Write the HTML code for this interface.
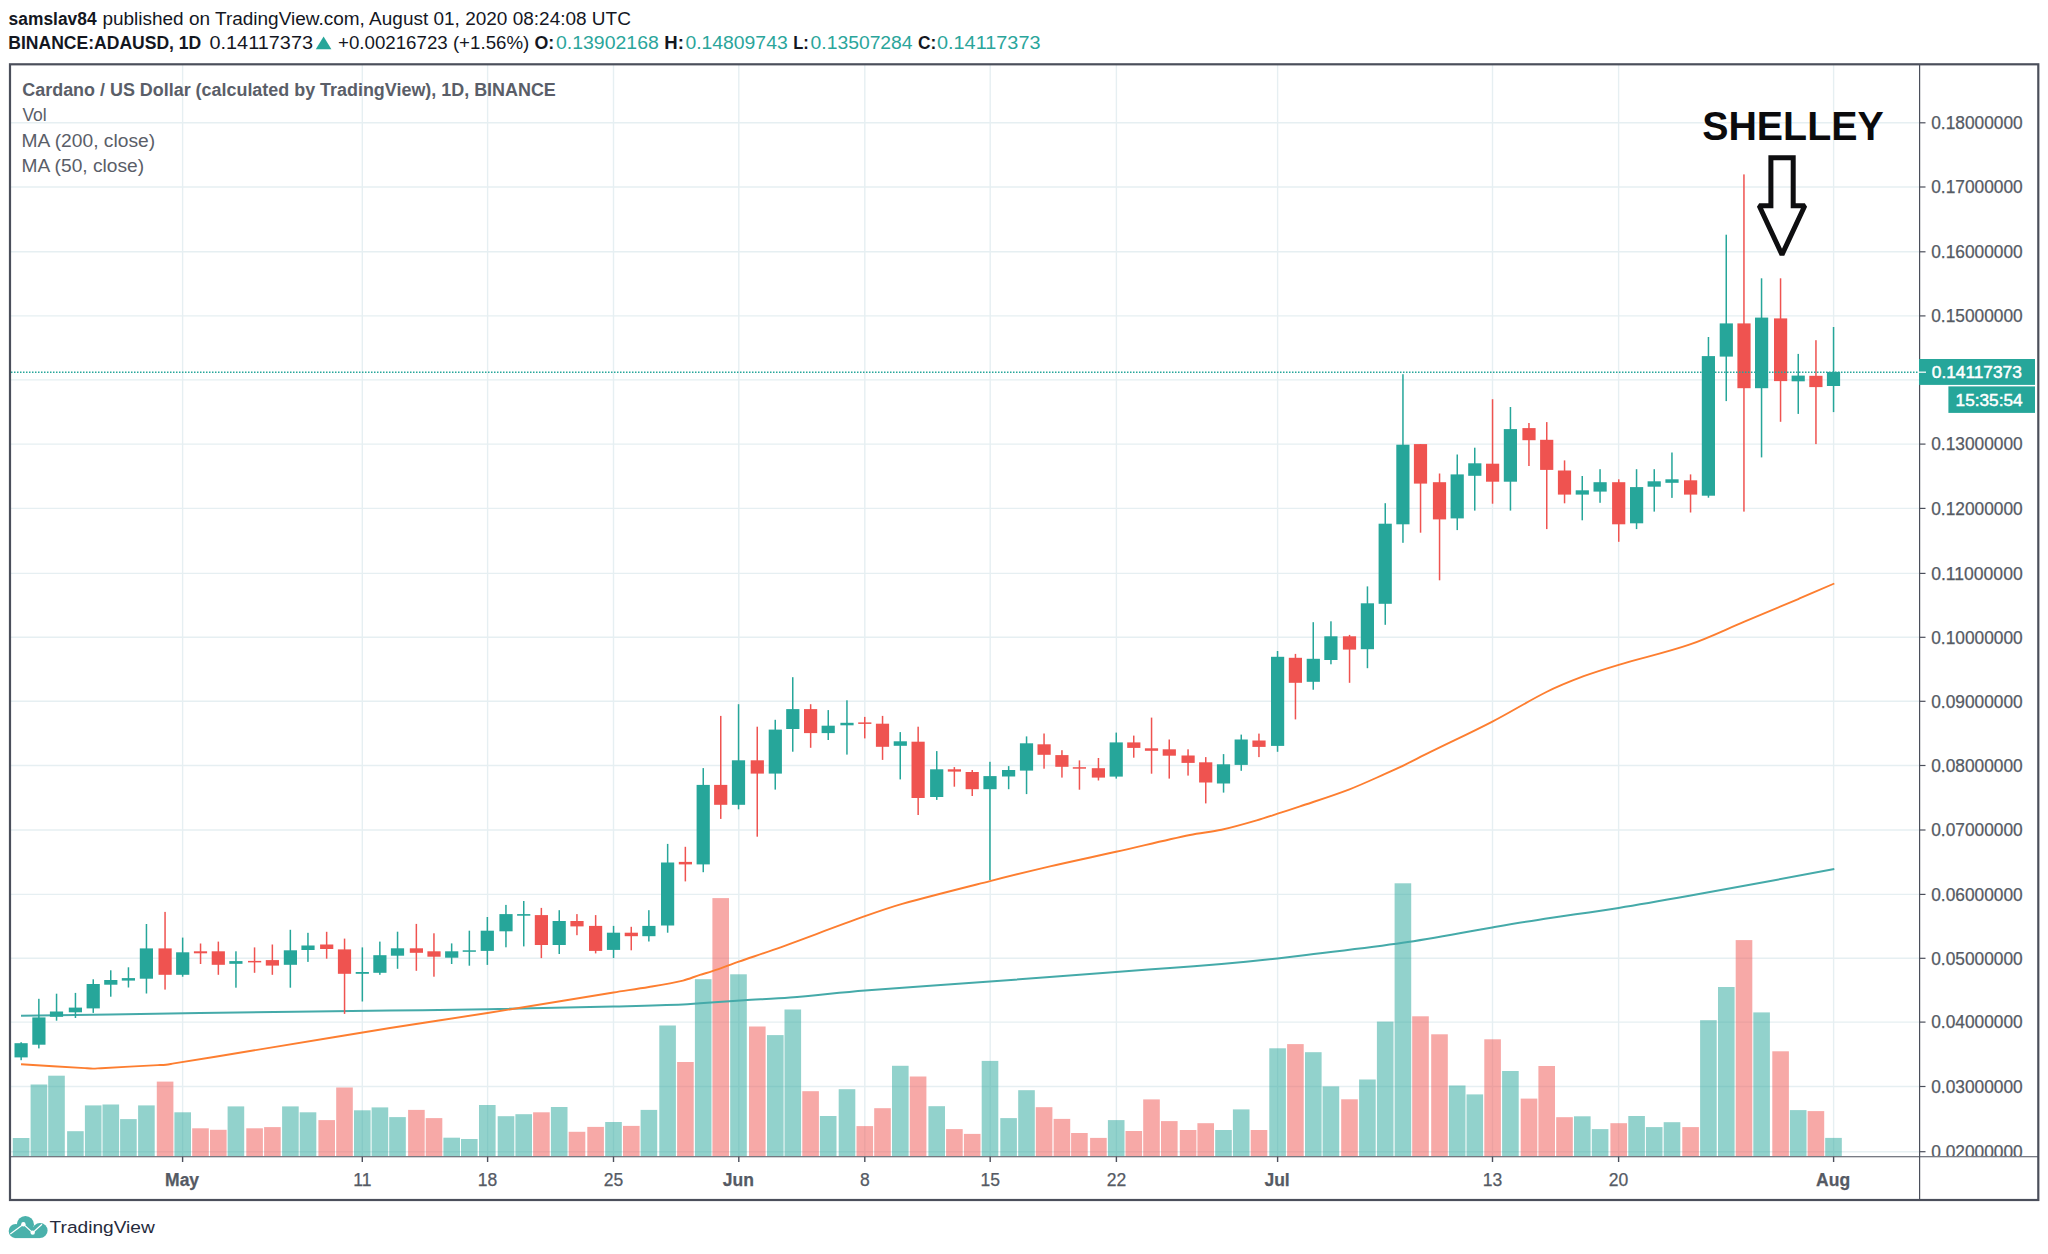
<!DOCTYPE html>
<html lang="en"><head><meta charset="utf-8"><title>ADAUSD chart</title>
<style>html,body{margin:0;padding:0;background:#fff}body{width:2048px;height:1254px;overflow:hidden;position:relative}svg{position:absolute;left:0;top:0;display:block}text{font-family:"Liberation Sans",sans-serif}.b{font-weight:bold}.ax{font-size:17.5px;fill:#555a64;stroke:#555a64;stroke-width:0.25px}.hd{font-size:17.5px;fill:#14171f}.tl{fill:#2aa59b}.lg{font-size:17.5px;fill:#5a5e68}</style></head><body>
<svg width="2048" height="1254" viewBox="0 0 2048 1254">
<rect x="0" y="0" width="2048" height="1254" fill="#fff"/>
<g stroke="#e6eff2" stroke-width="1.4" shape-rendering="auto">
<line x1="11" x2="1919" y1="122.8" y2="122.8"/>
<line x1="11" x2="1919" y1="187.0" y2="187.0"/>
<line x1="11" x2="1919" y1="251.8" y2="251.8"/>
<line x1="11" x2="1919" y1="315.9" y2="315.9"/>
<line x1="11" x2="1919" y1="379.9" y2="379.9"/>
<line x1="11" x2="1919" y1="444.1" y2="444.1"/>
<line x1="11" x2="1919" y1="508.4" y2="508.4"/>
<line x1="11" x2="1919" y1="573.4" y2="573.4"/>
<line x1="11" x2="1919" y1="637.3" y2="637.3"/>
<line x1="11" x2="1919" y1="701.3" y2="701.3"/>
<line x1="11" x2="1919" y1="765.5" y2="765.5"/>
<line x1="11" x2="1919" y1="830.0" y2="830.0"/>
<line x1="11" x2="1919" y1="894.4" y2="894.4"/>
<line x1="11" x2="1919" y1="958.3" y2="958.3"/>
<line x1="11" x2="1919" y1="1022.1" y2="1022.1"/>
<line x1="11" x2="1919" y1="1086.5" y2="1086.5"/>
<line x1="11" x2="1919" y1="1151.7" y2="1151.7"/>
<line x1="182.6" x2="182.6" y1="65" y2="1156"/>
<line x1="362.3" x2="362.3" y1="65" y2="1156"/>
<line x1="487.6" x2="487.6" y1="65" y2="1156"/>
<line x1="613.5" x2="613.5" y1="65" y2="1156"/>
<line x1="738.8" x2="738.8" y1="65" y2="1156"/>
<line x1="864.8" x2="864.8" y1="65" y2="1156"/>
<line x1="990.2" x2="990.2" y1="65" y2="1156"/>
<line x1="1116.4" x2="1116.4" y1="65" y2="1156"/>
<line x1="1277.6" x2="1277.6" y1="65" y2="1156"/>
<line x1="1492.5" x2="1492.5" y1="65" y2="1156"/>
<line x1="1618.6" x2="1618.6" y1="65" y2="1156"/>
<line x1="1833.6" x2="1833.6" y1="65" y2="1156"/>
</g>
<g>
<rect x="12.8" y="1138.0" width="16.6" height="18.2" fill="#26a69a" fill-opacity="0.5"/>
<rect x="30.6" y="1084.5" width="16.6" height="71.7" fill="#26a69a" fill-opacity="0.5"/>
<rect x="48.2" y="1075.7" width="16.6" height="80.5" fill="#26a69a" fill-opacity="0.5"/>
<rect x="67.1" y="1131.2" width="16.6" height="25.0" fill="#26a69a" fill-opacity="0.5"/>
<rect x="84.9" y="1105.4" width="16.6" height="50.8" fill="#26a69a" fill-opacity="0.5"/>
<rect x="102.5" y="1104.5" width="16.6" height="51.7" fill="#26a69a" fill-opacity="0.5"/>
<rect x="120.1" y="1119.1" width="16.6" height="37.1" fill="#26a69a" fill-opacity="0.5"/>
<rect x="138.1" y="1105.4" width="16.6" height="50.8" fill="#26a69a" fill-opacity="0.5"/>
<rect x="156.8" y="1081.6" width="16.6" height="74.6" fill="#ef5350" fill-opacity="0.5"/>
<rect x="174.4" y="1112.3" width="16.6" height="43.9" fill="#26a69a" fill-opacity="0.5"/>
<rect x="192.2" y="1128.3" width="16.6" height="27.9" fill="#ef5350" fill-opacity="0.5"/>
<rect x="210.0" y="1129.8" width="16.6" height="26.4" fill="#ef5350" fill-opacity="0.5"/>
<rect x="227.6" y="1106.4" width="16.6" height="49.8" fill="#26a69a" fill-opacity="0.5"/>
<rect x="246.3" y="1128.3" width="16.6" height="27.9" fill="#ef5350" fill-opacity="0.5"/>
<rect x="264.1" y="1127.1" width="16.6" height="29.1" fill="#ef5350" fill-opacity="0.5"/>
<rect x="282.1" y="1106.4" width="16.6" height="49.8" fill="#26a69a" fill-opacity="0.5"/>
<rect x="299.7" y="1112.3" width="16.6" height="43.9" fill="#26a69a" fill-opacity="0.5"/>
<rect x="318.4" y="1120.1" width="16.6" height="36.1" fill="#ef5350" fill-opacity="0.5"/>
<rect x="336.2" y="1087.5" width="16.6" height="68.7" fill="#ef5350" fill-opacity="0.5"/>
<rect x="354.0" y="1110.3" width="16.6" height="45.9" fill="#26a69a" fill-opacity="0.5"/>
<rect x="371.6" y="1107.4" width="16.6" height="48.8" fill="#26a69a" fill-opacity="0.5"/>
<rect x="389.2" y="1117.1" width="16.6" height="39.1" fill="#26a69a" fill-opacity="0.5"/>
<rect x="408.1" y="1109.9" width="16.6" height="46.3" fill="#ef5350" fill-opacity="0.5"/>
<rect x="425.7" y="1118.1" width="16.6" height="38.1" fill="#ef5350" fill-opacity="0.5"/>
<rect x="443.4" y="1137.7" width="16.6" height="18.5" fill="#26a69a" fill-opacity="0.5"/>
<rect x="461.0" y="1139.0" width="16.6" height="17.2" fill="#26a69a" fill-opacity="0.5"/>
<rect x="479.0" y="1105.0" width="16.6" height="51.2" fill="#26a69a" fill-opacity="0.5"/>
<rect x="497.7" y="1116.2" width="16.6" height="40.0" fill="#26a69a" fill-opacity="0.5"/>
<rect x="515.4" y="1114.2" width="16.6" height="42.0" fill="#26a69a" fill-opacity="0.5"/>
<rect x="533.1" y="1112.3" width="16.6" height="43.9" fill="#ef5350" fill-opacity="0.5"/>
<rect x="550.9" y="1107.0" width="16.6" height="49.2" fill="#26a69a" fill-opacity="0.5"/>
<rect x="568.7" y="1131.8" width="16.6" height="24.4" fill="#ef5350" fill-opacity="0.5"/>
<rect x="587.3" y="1126.9" width="16.6" height="29.3" fill="#ef5350" fill-opacity="0.5"/>
<rect x="605.2" y="1122.0" width="16.6" height="34.2" fill="#26a69a" fill-opacity="0.5"/>
<rect x="623.0" y="1125.9" width="16.6" height="30.3" fill="#ef5350" fill-opacity="0.5"/>
<rect x="640.6" y="1109.9" width="16.6" height="46.3" fill="#26a69a" fill-opacity="0.5"/>
<rect x="659.3" y="1025.5" width="16.6" height="130.7" fill="#26a69a" fill-opacity="0.5"/>
<rect x="677.1" y="1062.0" width="16.6" height="94.2" fill="#ef5350" fill-opacity="0.5"/>
<rect x="694.9" y="979.2" width="16.6" height="177.0" fill="#26a69a" fill-opacity="0.5"/>
<rect x="712.4" y="898.1" width="16.6" height="258.1" fill="#ef5350" fill-opacity="0.5"/>
<rect x="730.2" y="974.3" width="16.6" height="181.9" fill="#26a69a" fill-opacity="0.5"/>
<rect x="749.0" y="1026.5" width="16.6" height="129.7" fill="#ef5350" fill-opacity="0.5"/>
<rect x="767.0" y="1035.1" width="16.6" height="121.1" fill="#26a69a" fill-opacity="0.5"/>
<rect x="784.5" y="1009.5" width="16.6" height="146.7" fill="#26a69a" fill-opacity="0.5"/>
<rect x="802.3" y="1091.2" width="16.6" height="65.0" fill="#ef5350" fill-opacity="0.5"/>
<rect x="819.9" y="1116.0" width="16.6" height="40.2" fill="#26a69a" fill-opacity="0.5"/>
<rect x="838.7" y="1089.2" width="16.6" height="67.0" fill="#26a69a" fill-opacity="0.5"/>
<rect x="856.5" y="1126.1" width="16.6" height="30.1" fill="#ef5350" fill-opacity="0.5"/>
<rect x="874.2" y="1108.2" width="16.6" height="48.0" fill="#ef5350" fill-opacity="0.5"/>
<rect x="892.0" y="1065.8" width="16.6" height="90.4" fill="#26a69a" fill-opacity="0.5"/>
<rect x="909.8" y="1076.5" width="16.6" height="79.7" fill="#ef5350" fill-opacity="0.5"/>
<rect x="928.4" y="1106.2" width="16.6" height="50.0" fill="#26a69a" fill-opacity="0.5"/>
<rect x="946.1" y="1129.1" width="16.6" height="27.1" fill="#ef5350" fill-opacity="0.5"/>
<rect x="963.9" y="1133.9" width="16.6" height="22.3" fill="#ef5350" fill-opacity="0.5"/>
<rect x="981.7" y="1060.9" width="16.6" height="95.3" fill="#26a69a" fill-opacity="0.5"/>
<rect x="1000.3" y="1118.1" width="16.6" height="38.1" fill="#26a69a" fill-opacity="0.5"/>
<rect x="1018.2" y="1090.2" width="16.6" height="66.0" fill="#26a69a" fill-opacity="0.5"/>
<rect x="1035.8" y="1107.2" width="16.6" height="49.0" fill="#ef5350" fill-opacity="0.5"/>
<rect x="1053.6" y="1118.9" width="16.6" height="37.3" fill="#ef5350" fill-opacity="0.5"/>
<rect x="1071.1" y="1133.0" width="16.6" height="23.2" fill="#ef5350" fill-opacity="0.5"/>
<rect x="1090.1" y="1137.9" width="16.6" height="18.3" fill="#ef5350" fill-opacity="0.5"/>
<rect x="1107.9" y="1120.1" width="16.6" height="36.1" fill="#26a69a" fill-opacity="0.5"/>
<rect x="1125.5" y="1131.0" width="16.6" height="25.2" fill="#ef5350" fill-opacity="0.5"/>
<rect x="1143.2" y="1099.4" width="16.6" height="56.8" fill="#ef5350" fill-opacity="0.5"/>
<rect x="1161.0" y="1121.1" width="16.6" height="35.1" fill="#ef5350" fill-opacity="0.5"/>
<rect x="1179.8" y="1130.0" width="16.6" height="26.2" fill="#ef5350" fill-opacity="0.5"/>
<rect x="1197.4" y="1123.2" width="16.6" height="33.0" fill="#ef5350" fill-opacity="0.5"/>
<rect x="1215.2" y="1130.0" width="16.6" height="26.2" fill="#26a69a" fill-opacity="0.5"/>
<rect x="1232.9" y="1109.4" width="16.6" height="46.8" fill="#26a69a" fill-opacity="0.5"/>
<rect x="1250.7" y="1130.0" width="16.6" height="26.2" fill="#ef5350" fill-opacity="0.5"/>
<rect x="1269.3" y="1048.3" width="16.6" height="107.9" fill="#26a69a" fill-opacity="0.5"/>
<rect x="1287.1" y="1044.1" width="16.6" height="112.1" fill="#ef5350" fill-opacity="0.5"/>
<rect x="1305.0" y="1052.2" width="16.6" height="104.0" fill="#26a69a" fill-opacity="0.5"/>
<rect x="1322.6" y="1086.4" width="16.6" height="69.8" fill="#26a69a" fill-opacity="0.5"/>
<rect x="1341.2" y="1099.3" width="16.6" height="56.9" fill="#ef5350" fill-opacity="0.5"/>
<rect x="1359.1" y="1079.5" width="16.6" height="76.7" fill="#26a69a" fill-opacity="0.5"/>
<rect x="1376.9" y="1021.6" width="16.6" height="134.6" fill="#26a69a" fill-opacity="0.5"/>
<rect x="1394.6" y="883.3" width="16.6" height="272.9" fill="#26a69a" fill-opacity="0.5"/>
<rect x="1412.2" y="1016.3" width="16.6" height="139.9" fill="#ef5350" fill-opacity="0.5"/>
<rect x="1431.2" y="1034.3" width="16.6" height="121.9" fill="#ef5350" fill-opacity="0.5"/>
<rect x="1448.9" y="1085.5" width="16.6" height="70.7" fill="#26a69a" fill-opacity="0.5"/>
<rect x="1466.5" y="1094.4" width="16.6" height="61.8" fill="#26a69a" fill-opacity="0.5"/>
<rect x="1484.3" y="1039.3" width="16.6" height="116.9" fill="#ef5350" fill-opacity="0.5"/>
<rect x="1502.1" y="1071.0" width="16.6" height="85.2" fill="#26a69a" fill-opacity="0.5"/>
<rect x="1520.7" y="1098.6" width="16.6" height="57.6" fill="#ef5350" fill-opacity="0.5"/>
<rect x="1538.4" y="1066.0" width="16.6" height="90.2" fill="#ef5350" fill-opacity="0.5"/>
<rect x="1556.2" y="1117.2" width="16.6" height="39.0" fill="#ef5350" fill-opacity="0.5"/>
<rect x="1574.0" y="1116.3" width="16.6" height="39.9" fill="#26a69a" fill-opacity="0.5"/>
<rect x="1591.8" y="1129.1" width="16.6" height="27.1" fill="#26a69a" fill-opacity="0.5"/>
<rect x="1610.4" y="1123.2" width="16.6" height="33.0" fill="#ef5350" fill-opacity="0.5"/>
<rect x="1628.3" y="1116.0" width="16.6" height="40.2" fill="#26a69a" fill-opacity="0.5"/>
<rect x="1645.9" y="1127.1" width="16.6" height="29.1" fill="#26a69a" fill-opacity="0.5"/>
<rect x="1663.7" y="1122.2" width="16.6" height="34.0" fill="#26a69a" fill-opacity="0.5"/>
<rect x="1682.3" y="1127.1" width="16.6" height="29.1" fill="#ef5350" fill-opacity="0.5"/>
<rect x="1700.1" y="1020.2" width="16.6" height="136.0" fill="#26a69a" fill-opacity="0.5"/>
<rect x="1718.0" y="987.0" width="16.6" height="169.2" fill="#26a69a" fill-opacity="0.5"/>
<rect x="1735.7" y="940.1" width="16.6" height="216.1" fill="#ef5350" fill-opacity="0.5"/>
<rect x="1753.3" y="1012.4" width="16.6" height="143.8" fill="#26a69a" fill-opacity="0.5"/>
<rect x="1772.3" y="1051.3" width="16.6" height="104.9" fill="#ef5350" fill-opacity="0.5"/>
<rect x="1789.9" y="1110.1" width="16.6" height="46.1" fill="#26a69a" fill-opacity="0.5"/>
<rect x="1807.6" y="1111.1" width="16.6" height="45.1" fill="#ef5350" fill-opacity="0.5"/>
<rect x="1825.2" y="1137.9" width="16.6" height="18.3" fill="#26a69a" fill-opacity="0.5"/>
</g>
<path d="M21.0 1015.8 C80.7 1014.9 140.3 1013.9 200.0 1013.0 C263.3 1012.1 326.7 1011.3 390.0 1010.5 C422.5 1010.1 455.0 1009.9 487.5 1009.3 C529.5 1008.6 571.5 1007.6 613.5 1006.6 C636.7 1006.0 659.8 1005.5 683.0 1004.6 C688.7 1004.4 694.3 1003.7 700.0 1003.3 C714.7 1002.3 729.3 1001.3 744.0 1000.3 C759.3 999.3 774.7 998.7 790.0 997.4 C815.0 995.4 840.0 992.4 865.0 990.4 C906.7 987.1 948.3 984.7 990.0 981.6 C1032.0 978.5 1074.0 975.0 1116.0 971.9 C1134.0 970.5 1152.0 969.4 1170.0 968.1 C1187.2 966.8 1204.3 965.5 1221.5 964.0 C1240.2 962.3 1258.8 960.3 1277.5 958.4 C1285.0 957.6 1292.5 956.7 1300.0 955.8 C1334.2 951.5 1368.5 947.9 1402.7 942.8 C1432.6 938.4 1462.4 932.5 1492.3 927.4 C1507.5 924.8 1522.6 922.2 1537.8 919.9 C1564.8 915.7 1591.7 912.2 1618.7 907.9 C1642.2 904.2 1665.8 900.0 1689.3 895.8 C1737.6 887.1 1786.0 878.0 1834.3 869.1" fill="none" stroke="#45aaa9" stroke-width="2" stroke-linejoin="round"/>
<path d="M21.0 1064.3 C42.3 1065.6 63.7 1066.8 85.0 1068.1 C87.7 1068.3 90.3 1068.6 93.0 1068.6 C95.7 1068.6 98.3 1068.3 101.0 1068.2 C120.0 1067.2 139.0 1066.1 158.0 1065.1 C160.7 1065.0 163.3 1065.0 166.0 1064.7 C168.7 1064.4 171.3 1063.8 174.0 1063.4 C199.3 1059.3 224.7 1055.2 250.0 1051.0 C296.7 1043.4 343.3 1035.5 390.0 1028.0 C422.5 1022.8 455.0 1018.2 487.5 1013.0 C529.5 1006.3 571.5 999.3 613.5 992.5 C625.3 990.6 637.1 989.0 648.9 987.0 C660.3 985.1 671.6 983.3 683.0 980.6 C688.7 979.2 694.3 976.6 700.0 974.8 C704.1 973.5 708.3 972.6 712.4 971.2 C721.2 968.2 730.0 964.7 738.8 961.6 C750.3 957.6 761.7 954.0 773.2 949.9 C803.8 938.9 834.4 927.1 865.0 916.2 C877.4 911.8 889.8 907.4 902.2 903.9 C931.5 895.7 960.7 888.5 990.0 881.1 C1010.0 876.0 1030.0 871.1 1050.0 866.4 C1072.0 861.3 1094.0 856.7 1116.0 851.8 C1140.7 846.3 1165.3 840.1 1190.0 835.0 C1200.5 832.8 1211.0 832.1 1221.5 829.8 C1233.2 827.2 1245.0 823.8 1256.7 820.4 C1263.7 818.4 1270.6 816.0 1277.6 813.7 C1285.1 811.3 1292.5 808.9 1300.0 806.4 C1316.5 800.8 1333.0 795.6 1349.5 789.3 C1361.5 784.7 1373.6 779.0 1385.6 773.7 C1390.4 771.6 1395.2 769.5 1400.0 767.2 C1410.0 762.4 1420.0 757.1 1430.0 752.2 C1450.8 741.9 1471.6 732.4 1492.4 721.6 C1510.4 712.3 1528.4 701.0 1546.4 692.0 C1558.8 685.8 1571.3 680.9 1583.7 676.2 C1595.4 671.8 1607.0 668.3 1618.7 664.8 C1642.2 657.8 1665.8 652.8 1689.3 644.7 C1707.7 638.4 1726.0 629.4 1744.4 621.7 C1762.6 614.1 1780.8 606.4 1799.0 598.7 C1810.8 593.7 1822.5 588.6 1834.3 583.5" fill="none" stroke="#fd7e30" stroke-width="1.9" stroke-linejoin="round"/>
<g>
<rect x="20.4" y="1042.2" width="1.5" height="18.0" fill="#26a69a"/>
<rect x="14.5" y="1043.2" width="13.2" height="14.2" fill="#26a69a"/>
<rect x="38.1" y="998.8" width="1.5" height="49.6" fill="#26a69a"/>
<rect x="32.3" y="1017.4" width="13.2" height="27.3" fill="#26a69a"/>
<rect x="55.8" y="993.7" width="1.5" height="27.0" fill="#26a69a"/>
<rect x="49.9" y="1011.5" width="13.2" height="5.3" fill="#26a69a"/>
<rect x="74.7" y="992.9" width="1.5" height="25.1" fill="#26a69a"/>
<rect x="68.8" y="1007.6" width="13.2" height="4.7" fill="#26a69a"/>
<rect x="92.5" y="979.3" width="1.5" height="33.6" fill="#26a69a"/>
<rect x="86.6" y="984.0" width="13.2" height="24.4" fill="#26a69a"/>
<rect x="110.0" y="970.3" width="1.5" height="26.4" fill="#26a69a"/>
<rect x="104.2" y="980.0" width="13.2" height="4.7" fill="#26a69a"/>
<rect x="127.7" y="967.3" width="1.5" height="20.2" fill="#26a69a"/>
<rect x="121.8" y="978.1" width="13.2" height="2.5" fill="#26a69a"/>
<rect x="145.7" y="924.0" width="1.5" height="69.5" fill="#26a69a"/>
<rect x="139.8" y="948.4" width="13.2" height="30.3" fill="#26a69a"/>
<rect x="164.3" y="911.9" width="1.5" height="77.7" fill="#ef5350"/>
<rect x="158.5" y="948.4" width="13.2" height="26.4" fill="#ef5350"/>
<rect x="181.9" y="937.6" width="1.5" height="39.1" fill="#26a69a"/>
<rect x="176.1" y="952.3" width="13.2" height="22.5" fill="#26a69a"/>
<rect x="199.8" y="943.5" width="1.5" height="20.5" fill="#ef5350"/>
<rect x="193.9" y="951.3" width="13.2" height="2.0" fill="#ef5350"/>
<rect x="217.6" y="941.6" width="1.5" height="33.2" fill="#ef5350"/>
<rect x="211.7" y="951.3" width="13.2" height="13.5" fill="#ef5350"/>
<rect x="235.2" y="951.3" width="1.5" height="36.4" fill="#26a69a"/>
<rect x="229.3" y="961.1" width="13.2" height="2.7" fill="#26a69a"/>
<rect x="253.8" y="947.4" width="1.5" height="25.4" fill="#ef5350"/>
<rect x="248.0" y="960.9" width="13.2" height="1.5" fill="#ef5350"/>
<rect x="271.6" y="944.5" width="1.5" height="30.3" fill="#ef5350"/>
<rect x="265.8" y="960.1" width="13.2" height="5.5" fill="#ef5350"/>
<rect x="289.6" y="929.8" width="1.5" height="57.9" fill="#26a69a"/>
<rect x="283.8" y="950.3" width="13.2" height="14.5" fill="#26a69a"/>
<rect x="307.2" y="932.8" width="1.5" height="29.1" fill="#26a69a"/>
<rect x="301.4" y="945.5" width="13.2" height="4.5" fill="#26a69a"/>
<rect x="325.9" y="931.8" width="1.5" height="26.9" fill="#ef5350"/>
<rect x="320.1" y="944.5" width="13.2" height="4.5" fill="#ef5350"/>
<rect x="343.8" y="938.6" width="1.5" height="75.3" fill="#ef5350"/>
<rect x="337.9" y="949.4" width="13.2" height="24.4" fill="#ef5350"/>
<rect x="361.6" y="947.4" width="1.5" height="54.1" fill="#26a69a"/>
<rect x="355.7" y="972.0" width="13.2" height="1.8" fill="#26a69a"/>
<rect x="379.1" y="941.6" width="1.5" height="33.2" fill="#26a69a"/>
<rect x="373.3" y="955.2" width="13.2" height="17.6" fill="#26a69a"/>
<rect x="396.8" y="931.7" width="1.5" height="37.1" fill="#26a69a"/>
<rect x="390.9" y="948.3" width="13.2" height="7.4" fill="#26a69a"/>
<rect x="415.6" y="923.9" width="1.5" height="46.9" fill="#ef5350"/>
<rect x="409.8" y="948.3" width="13.2" height="4.5" fill="#ef5350"/>
<rect x="433.2" y="933.3" width="1.5" height="43.4" fill="#ef5350"/>
<rect x="427.4" y="951.3" width="13.2" height="5.4" fill="#ef5350"/>
<rect x="450.9" y="943.4" width="1.5" height="20.6" fill="#26a69a"/>
<rect x="445.1" y="951.3" width="13.2" height="6.4" fill="#26a69a"/>
<rect x="468.6" y="930.7" width="1.5" height="35.0" fill="#26a69a"/>
<rect x="462.7" y="950.3" width="13.2" height="1.5" fill="#26a69a"/>
<rect x="486.6" y="917.0" width="1.5" height="47.9" fill="#26a69a"/>
<rect x="480.7" y="930.7" width="13.2" height="20.2" fill="#26a69a"/>
<rect x="505.2" y="904.9" width="1.5" height="42.4" fill="#26a69a"/>
<rect x="499.4" y="914.1" width="13.2" height="17.2" fill="#26a69a"/>
<rect x="523.0" y="901.0" width="1.5" height="45.4" fill="#26a69a"/>
<rect x="517.1" y="914.1" width="13.2" height="1.6" fill="#26a69a"/>
<rect x="540.6" y="907.9" width="1.5" height="50.2" fill="#ef5350"/>
<rect x="534.8" y="915.1" width="13.2" height="29.9" fill="#ef5350"/>
<rect x="558.5" y="910.2" width="1.5" height="43.8" fill="#26a69a"/>
<rect x="552.6" y="921.0" width="13.2" height="24.0" fill="#26a69a"/>
<rect x="576.2" y="914.1" width="1.5" height="21.1" fill="#ef5350"/>
<rect x="570.4" y="921.0" width="13.2" height="5.4" fill="#ef5350"/>
<rect x="594.9" y="915.1" width="1.5" height="38.3" fill="#ef5350"/>
<rect x="589.0" y="925.9" width="13.2" height="25.0" fill="#ef5350"/>
<rect x="612.8" y="925.9" width="1.5" height="32.2" fill="#26a69a"/>
<rect x="606.9" y="932.7" width="13.2" height="17.2" fill="#26a69a"/>
<rect x="630.5" y="926.8" width="1.5" height="23.5" fill="#ef5350"/>
<rect x="624.7" y="932.7" width="13.2" height="3.5" fill="#ef5350"/>
<rect x="648.1" y="910.2" width="1.5" height="31.3" fill="#26a69a"/>
<rect x="642.3" y="925.9" width="13.2" height="10.3" fill="#26a69a"/>
<rect x="666.9" y="843.9" width="1.5" height="88.8" fill="#26a69a"/>
<rect x="661.0" y="862.5" width="13.2" height="63.0" fill="#26a69a"/>
<rect x="684.6" y="846.8" width="1.5" height="34.6" fill="#ef5350"/>
<rect x="678.8" y="861.9" width="13.2" height="2.5" fill="#ef5350"/>
<rect x="702.5" y="768.1" width="1.5" height="104.1" fill="#26a69a"/>
<rect x="696.6" y="784.9" width="13.2" height="79.5" fill="#26a69a"/>
<rect x="720.0" y="715.9" width="1.5" height="103.0" fill="#ef5350"/>
<rect x="714.1" y="784.9" width="13.2" height="19.9" fill="#ef5350"/>
<rect x="737.8" y="704.2" width="1.5" height="105.1" fill="#26a69a"/>
<rect x="731.9" y="760.3" width="13.2" height="44.5" fill="#26a69a"/>
<rect x="756.5" y="726.7" width="1.5" height="110.0" fill="#ef5350"/>
<rect x="750.7" y="760.3" width="13.2" height="13.3" fill="#ef5350"/>
<rect x="774.5" y="719.8" width="1.5" height="69.8" fill="#26a69a"/>
<rect x="768.7" y="729.6" width="13.2" height="44.0" fill="#26a69a"/>
<rect x="792.0" y="677.2" width="1.5" height="74.5" fill="#26a69a"/>
<rect x="786.2" y="709.1" width="13.2" height="19.9" fill="#26a69a"/>
<rect x="809.9" y="704.2" width="1.5" height="43.6" fill="#ef5350"/>
<rect x="804.0" y="709.1" width="13.2" height="24.0" fill="#ef5350"/>
<rect x="827.5" y="710.1" width="1.5" height="29.9" fill="#26a69a"/>
<rect x="821.6" y="725.7" width="13.2" height="7.4" fill="#26a69a"/>
<rect x="846.2" y="700.3" width="1.5" height="54.3" fill="#26a69a"/>
<rect x="840.4" y="722.8" width="13.2" height="2.5" fill="#26a69a"/>
<rect x="864.0" y="716.9" width="1.5" height="21.5" fill="#ef5350"/>
<rect x="858.2" y="722.4" width="13.2" height="1.5" fill="#ef5350"/>
<rect x="881.8" y="715.9" width="1.5" height="44.0" fill="#ef5350"/>
<rect x="875.9" y="723.7" width="13.2" height="23.1" fill="#ef5350"/>
<rect x="899.5" y="732.1" width="1.5" height="47.3" fill="#26a69a"/>
<rect x="893.7" y="741.3" width="13.2" height="4.5" fill="#26a69a"/>
<rect x="917.4" y="726.7" width="1.5" height="88.3" fill="#ef5350"/>
<rect x="911.5" y="741.7" width="13.2" height="56.3" fill="#ef5350"/>
<rect x="936.0" y="751.1" width="1.5" height="48.8" fill="#26a69a"/>
<rect x="930.1" y="769.3" width="13.2" height="27.7" fill="#26a69a"/>
<rect x="953.6" y="767.1" width="1.5" height="19.6" fill="#ef5350"/>
<rect x="947.8" y="769.3" width="13.2" height="2.3" fill="#ef5350"/>
<rect x="971.5" y="770.0" width="1.5" height="26.0" fill="#ef5350"/>
<rect x="965.6" y="772.0" width="13.2" height="17.2" fill="#ef5350"/>
<rect x="989.2" y="761.8" width="1.5" height="118.2" fill="#26a69a"/>
<rect x="983.4" y="776.1" width="13.2" height="13.1" fill="#26a69a"/>
<rect x="1007.9" y="766.1" width="1.5" height="23.1" fill="#26a69a"/>
<rect x="1002.0" y="770.0" width="13.2" height="6.5" fill="#26a69a"/>
<rect x="1025.8" y="736.4" width="1.5" height="57.7" fill="#26a69a"/>
<rect x="1019.9" y="743.3" width="13.2" height="27.3" fill="#26a69a"/>
<rect x="1043.3" y="733.5" width="1.5" height="35.2" fill="#ef5350"/>
<rect x="1037.5" y="744.3" width="13.2" height="10.5" fill="#ef5350"/>
<rect x="1061.2" y="750.2" width="1.5" height="27.4" fill="#ef5350"/>
<rect x="1055.3" y="755.1" width="13.2" height="11.7" fill="#ef5350"/>
<rect x="1078.7" y="760.4" width="1.5" height="29.3" fill="#ef5350"/>
<rect x="1072.8" y="767.2" width="13.2" height="1.5" fill="#ef5350"/>
<rect x="1097.7" y="758.0" width="1.5" height="22.5" fill="#ef5350"/>
<rect x="1091.8" y="768.2" width="13.2" height="9.4" fill="#ef5350"/>
<rect x="1115.5" y="732.6" width="1.5" height="46.0" fill="#26a69a"/>
<rect x="1109.6" y="742.4" width="13.2" height="34.2" fill="#26a69a"/>
<rect x="1133.0" y="735.6" width="1.5" height="22.1" fill="#ef5350"/>
<rect x="1127.2" y="742.4" width="13.2" height="5.5" fill="#ef5350"/>
<rect x="1150.8" y="717.6" width="1.5" height="56.1" fill="#ef5350"/>
<rect x="1144.9" y="748.3" width="13.2" height="2.5" fill="#ef5350"/>
<rect x="1168.5" y="739.5" width="1.5" height="39.1" fill="#ef5350"/>
<rect x="1162.7" y="749.3" width="13.2" height="6.4" fill="#ef5350"/>
<rect x="1187.3" y="749.3" width="1.5" height="26.3" fill="#ef5350"/>
<rect x="1181.5" y="755.5" width="13.2" height="7.4" fill="#ef5350"/>
<rect x="1205.0" y="757.1" width="1.5" height="46.3" fill="#ef5350"/>
<rect x="1199.1" y="762.3" width="13.2" height="20.2" fill="#ef5350"/>
<rect x="1222.8" y="754.1" width="1.5" height="38.5" fill="#26a69a"/>
<rect x="1216.9" y="764.3" width="13.2" height="19.2" fill="#26a69a"/>
<rect x="1240.5" y="734.6" width="1.5" height="36.2" fill="#26a69a"/>
<rect x="1234.6" y="739.5" width="13.2" height="25.4" fill="#26a69a"/>
<rect x="1258.2" y="733.6" width="1.5" height="23.5" fill="#ef5350"/>
<rect x="1252.4" y="740.5" width="13.2" height="6.4" fill="#ef5350"/>
<rect x="1276.8" y="651.0" width="1.5" height="100.8" fill="#26a69a"/>
<rect x="1271.0" y="656.8" width="13.2" height="89.1" fill="#26a69a"/>
<rect x="1294.7" y="653.9" width="1.5" height="65.5" fill="#ef5350"/>
<rect x="1288.8" y="657.8" width="13.2" height="25.0" fill="#ef5350"/>
<rect x="1312.5" y="622.2" width="1.5" height="67.5" fill="#26a69a"/>
<rect x="1306.7" y="658.8" width="13.2" height="23.0" fill="#26a69a"/>
<rect x="1330.2" y="621.3" width="1.5" height="43.0" fill="#26a69a"/>
<rect x="1324.3" y="636.3" width="13.2" height="23.7" fill="#26a69a"/>
<rect x="1348.8" y="634.9" width="1.5" height="47.9" fill="#ef5350"/>
<rect x="1342.9" y="636.3" width="13.2" height="13.3" fill="#ef5350"/>
<rect x="1366.7" y="586.4" width="1.5" height="81.8" fill="#26a69a"/>
<rect x="1360.8" y="603.3" width="13.2" height="45.9" fill="#26a69a"/>
<rect x="1384.5" y="503.2" width="1.5" height="121.6" fill="#26a69a"/>
<rect x="1378.6" y="523.7" width="13.2" height="80.1" fill="#26a69a"/>
<rect x="1402.2" y="374.2" width="1.5" height="168.6" fill="#26a69a"/>
<rect x="1396.3" y="444.7" width="13.2" height="79.6" fill="#26a69a"/>
<rect x="1419.8" y="444.1" width="1.5" height="88.6" fill="#ef5350"/>
<rect x="1413.9" y="444.1" width="13.2" height="39.5" fill="#ef5350"/>
<rect x="1438.8" y="473.5" width="1.5" height="106.8" fill="#ef5350"/>
<rect x="1432.9" y="482.2" width="13.2" height="37.2" fill="#ef5350"/>
<rect x="1456.5" y="454.5" width="1.5" height="75.6" fill="#26a69a"/>
<rect x="1450.6" y="474.4" width="13.2" height="44.0" fill="#26a69a"/>
<rect x="1474.0" y="447.7" width="1.5" height="62.9" fill="#26a69a"/>
<rect x="1468.2" y="463.3" width="13.2" height="12.5" fill="#26a69a"/>
<rect x="1491.8" y="399.2" width="1.5" height="104.5" fill="#ef5350"/>
<rect x="1486.0" y="463.7" width="13.2" height="18.0" fill="#ef5350"/>
<rect x="1509.7" y="407.0" width="1.5" height="103.6" fill="#26a69a"/>
<rect x="1503.8" y="429.1" width="13.2" height="52.6" fill="#26a69a"/>
<rect x="1528.2" y="423.0" width="1.5" height="43.0" fill="#ef5350"/>
<rect x="1522.4" y="428.1" width="13.2" height="12.1" fill="#ef5350"/>
<rect x="1546.0" y="422.1" width="1.5" height="107.0" fill="#ef5350"/>
<rect x="1540.1" y="439.8" width="13.2" height="30.1" fill="#ef5350"/>
<rect x="1563.8" y="460.4" width="1.5" height="42.9" fill="#ef5350"/>
<rect x="1557.9" y="470.5" width="13.2" height="24.1" fill="#ef5350"/>
<rect x="1581.5" y="476.0" width="1.5" height="44.3" fill="#26a69a"/>
<rect x="1575.7" y="490.3" width="13.2" height="4.3" fill="#26a69a"/>
<rect x="1599.3" y="469.2" width="1.5" height="33.6" fill="#26a69a"/>
<rect x="1593.5" y="482.2" width="13.2" height="9.4" fill="#26a69a"/>
<rect x="1618.0" y="479.3" width="1.5" height="62.5" fill="#ef5350"/>
<rect x="1612.1" y="482.2" width="13.2" height="42.1" fill="#ef5350"/>
<rect x="1635.8" y="469.2" width="1.5" height="59.9" fill="#26a69a"/>
<rect x="1630.0" y="487.1" width="13.2" height="36.2" fill="#26a69a"/>
<rect x="1653.5" y="469.2" width="1.5" height="42.4" fill="#26a69a"/>
<rect x="1647.6" y="481.3" width="13.2" height="5.4" fill="#26a69a"/>
<rect x="1671.2" y="452.5" width="1.5" height="45.4" fill="#26a69a"/>
<rect x="1665.4" y="479.3" width="13.2" height="3.5" fill="#26a69a"/>
<rect x="1689.8" y="474.4" width="1.5" height="38.1" fill="#ef5350"/>
<rect x="1684.0" y="480.3" width="13.2" height="14.3" fill="#ef5350"/>
<rect x="1707.7" y="337.0" width="1.5" height="160.7" fill="#26a69a"/>
<rect x="1701.8" y="356.1" width="13.2" height="139.6" fill="#26a69a"/>
<rect x="1725.5" y="234.7" width="1.5" height="166.4" fill="#26a69a"/>
<rect x="1719.7" y="323.4" width="13.2" height="33.2" fill="#26a69a"/>
<rect x="1743.2" y="174.4" width="1.5" height="337.2" fill="#ef5350"/>
<rect x="1737.4" y="323.4" width="13.2" height="64.8" fill="#ef5350"/>
<rect x="1760.8" y="278.3" width="1.5" height="179.1" fill="#26a69a"/>
<rect x="1755.0" y="317.6" width="13.2" height="70.6" fill="#26a69a"/>
<rect x="1779.8" y="278.3" width="1.5" height="143.5" fill="#ef5350"/>
<rect x="1774.0" y="318.4" width="13.2" height="62.7" fill="#ef5350"/>
<rect x="1797.5" y="353.9" width="1.5" height="60.0" fill="#26a69a"/>
<rect x="1791.6" y="375.6" width="13.2" height="5.7" fill="#26a69a"/>
<rect x="1815.2" y="340.2" width="1.5" height="103.9" fill="#ef5350"/>
<rect x="1809.3" y="375.8" width="13.2" height="11.3" fill="#ef5350"/>
<rect x="1832.8" y="327.0" width="1.5" height="85.1" fill="#26a69a"/>
<rect x="1826.9" y="371.9" width="13.2" height="14.1" fill="#26a69a"/>
</g>
<line x1="11" x2="1919" y1="372.2" y2="372.2" stroke="#26a69a" stroke-width="1.5" stroke-dasharray="1.5 1.5"/>
<g fill="none" stroke="#4b4f5b">
<rect x="10" y="64.3" width="2028.3" height="1135.7" stroke-width="2.2"/>
<line x1="1919.6" x2="1919.6" y1="64" y2="1200" stroke-width="1.2"/>
<line x1="10" x2="2038" y1="1156.7" y2="1156.7" stroke-width="1.15"/>
<line x1="1919.6" x2="1925.5" y1="122.8" y2="122.8" stroke-width="1.2"/>
<line x1="1919.6" x2="1925.5" y1="187.0" y2="187.0" stroke-width="1.2"/>
<line x1="1919.6" x2="1925.5" y1="251.8" y2="251.8" stroke-width="1.2"/>
<line x1="1919.6" x2="1925.5" y1="315.9" y2="315.9" stroke-width="1.2"/>
<line x1="1919.6" x2="1925.5" y1="379.9" y2="379.9" stroke-width="1.2"/>
<line x1="1919.6" x2="1925.5" y1="444.1" y2="444.1" stroke-width="1.2"/>
<line x1="1919.6" x2="1925.5" y1="508.4" y2="508.4" stroke-width="1.2"/>
<line x1="1919.6" x2="1925.5" y1="573.4" y2="573.4" stroke-width="1.2"/>
<line x1="1919.6" x2="1925.5" y1="637.3" y2="637.3" stroke-width="1.2"/>
<line x1="1919.6" x2="1925.5" y1="701.3" y2="701.3" stroke-width="1.2"/>
<line x1="1919.6" x2="1925.5" y1="765.5" y2="765.5" stroke-width="1.2"/>
<line x1="1919.6" x2="1925.5" y1="830.0" y2="830.0" stroke-width="1.2"/>
<line x1="1919.6" x2="1925.5" y1="894.4" y2="894.4" stroke-width="1.2"/>
<line x1="1919.6" x2="1925.5" y1="958.3" y2="958.3" stroke-width="1.2"/>
<line x1="1919.6" x2="1925.5" y1="1022.1" y2="1022.1" stroke-width="1.2"/>
<line x1="1919.6" x2="1925.5" y1="1086.5" y2="1086.5" stroke-width="1.2"/>
<line x1="1919.6" x2="1925.5" y1="1151.7" y2="1151.7" stroke-width="1.2"/>
<line x1="182.6" x2="182.6" y1="1156.7" y2="1162" stroke-width="1.4"/>
<line x1="362.3" x2="362.3" y1="1156.7" y2="1162" stroke-width="1.4"/>
<line x1="487.6" x2="487.6" y1="1156.7" y2="1162" stroke-width="1.4"/>
<line x1="613.5" x2="613.5" y1="1156.7" y2="1162" stroke-width="1.4"/>
<line x1="738.8" x2="738.8" y1="1156.7" y2="1162" stroke-width="1.4"/>
<line x1="864.8" x2="864.8" y1="1156.7" y2="1162" stroke-width="1.4"/>
<line x1="990.2" x2="990.2" y1="1156.7" y2="1162" stroke-width="1.4"/>
<line x1="1116.4" x2="1116.4" y1="1156.7" y2="1162" stroke-width="1.4"/>
<line x1="1277.6" x2="1277.6" y1="1156.7" y2="1162" stroke-width="1.4"/>
<line x1="1492.5" x2="1492.5" y1="1156.7" y2="1162" stroke-width="1.4"/>
<line x1="1618.6" x2="1618.6" y1="1156.7" y2="1162" stroke-width="1.4"/>
<line x1="1833.6" x2="1833.6" y1="1156.7" y2="1162" stroke-width="1.4"/>
</g>
<defs><clipPath id="pc"><rect x="1921" y="65" width="116" height="1091"/></clipPath></defs>
<g class="ax" clip-path="url(#pc)">
<text x="1931.2" y="129.1" textLength="91.5" lengthAdjust="spacingAndGlyphs">0.18000000</text>
<text x="1931.2" y="193.3" textLength="91.5" lengthAdjust="spacingAndGlyphs">0.17000000</text>
<text x="1931.2" y="258.1" textLength="91.5" lengthAdjust="spacingAndGlyphs">0.16000000</text>
<text x="1931.2" y="322.2" textLength="91.5" lengthAdjust="spacingAndGlyphs">0.15000000</text>
<text x="1931.2" y="450.4" textLength="91.5" lengthAdjust="spacingAndGlyphs">0.13000000</text>
<text x="1931.2" y="514.7" textLength="91.5" lengthAdjust="spacingAndGlyphs">0.12000000</text>
<text x="1931.2" y="579.7" textLength="91.5" lengthAdjust="spacingAndGlyphs">0.11000000</text>
<text x="1931.2" y="643.6" textLength="91.5" lengthAdjust="spacingAndGlyphs">0.10000000</text>
<text x="1931.2" y="707.6" textLength="91.5" lengthAdjust="spacingAndGlyphs">0.09000000</text>
<text x="1931.2" y="771.8" textLength="91.5" lengthAdjust="spacingAndGlyphs">0.08000000</text>
<text x="1931.2" y="836.3" textLength="91.5" lengthAdjust="spacingAndGlyphs">0.07000000</text>
<text x="1931.2" y="900.7" textLength="91.5" lengthAdjust="spacingAndGlyphs">0.06000000</text>
<text x="1931.2" y="964.6" textLength="91.5" lengthAdjust="spacingAndGlyphs">0.05000000</text>
<text x="1931.2" y="1028.4" textLength="91.5" lengthAdjust="spacingAndGlyphs">0.04000000</text>
<text x="1931.2" y="1092.8" textLength="91.5" lengthAdjust="spacingAndGlyphs">0.03000000</text>
<text x="1931.2" y="1158.0" textLength="91.5" lengthAdjust="spacingAndGlyphs">0.02000000</text>
</g>
<rect x="1919" y="359" width="116" height="25.9" fill="#26a69a"/>
<line x1="1919" x2="1926" y1="372.2" y2="372.2" stroke="#e8f5f3" stroke-width="1.4"/>
<rect x="1948.4" y="386.4" width="86.6" height="26.5" fill="#26a69a"/>
<text x="1931.8" y="378.4" font-size="17" fill="#fff" stroke="#fff" stroke-width="0.5" textLength="90" lengthAdjust="spacingAndGlyphs">0.14117373</text>
<text x="1955.6" y="406" font-size="17" fill="#fff" stroke="#fff" stroke-width="0.5" textLength="67" lengthAdjust="spacingAndGlyphs">15:35:54</text>
<g class="ax" text-anchor="middle">
<text x="182.1" y="1185.6" class="b">May</text>
<text x="362.3" y="1185.6">11</text>
<text x="487.6" y="1185.6">18</text>
<text x="613.5" y="1185.6">25</text>
<text x="738.3" y="1185.6" class="b">Jun</text>
<text x="864.8" y="1185.6">8</text>
<text x="990.2" y="1185.6">15</text>
<text x="1116.4" y="1185.6">22</text>
<text x="1277.1" y="1185.6" class="b">Jul</text>
<text x="1492.5" y="1185.6">13</text>
<text x="1618.6" y="1185.6">20</text>
<text x="1833.1" y="1185.6" class="b">Aug</text>
</g>
<g class="lg">
<text x="22.3" y="95.7" class="b" textLength="533.5" lengthAdjust="spacingAndGlyphs">Cardano / US Dollar (calculated by TradingView), 1D, BINANCE</text>
<text x="22.4" y="120.9">Vol</text>
<text x="21.6" y="146.8" textLength="133.5" lengthAdjust="spacingAndGlyphs">MA (200, close)</text>
<text x="21.6" y="172.3" textLength="122.5" lengthAdjust="spacingAndGlyphs">MA (50, close)</text>
</g>
<g class="hd">
<text x="8.6" y="24.6" class="b" textLength="88" lengthAdjust="spacingAndGlyphs">samslav84</text>
<text x="102.4" y="24.6" textLength="528.5" lengthAdjust="spacingAndGlyphs">published on TradingView.com, August 01, 2020 08:24:08 UTC</text>
<text x="8.3" y="49.2" class="b" textLength="193" lengthAdjust="spacingAndGlyphs">BINANCE:ADAUSD, 1D</text>
<text x="209.5" y="49.2" textLength="103.5" lengthAdjust="spacingAndGlyphs">0.14117373</text>
<path d="M315.8 49.2 L323.6 36.4 L331.4 49.2 Z" fill="#26a69a"/>
<text x="338" y="49.2" textLength="191.3" lengthAdjust="spacingAndGlyphs">+0.00216723 (+1.56%)</text>
<text x="534.5" y="49.2" class="b" textLength="19.8" lengthAdjust="spacingAndGlyphs">O:</text>
<text x="664.3" y="49.2" class="b" textLength="19.6" lengthAdjust="spacingAndGlyphs">H:</text>
<text x="793.2" y="49.2" class="b" textLength="15.6" lengthAdjust="spacingAndGlyphs">L:</text>
<text x="918.0" y="49.2" class="b" textLength="18.3" lengthAdjust="spacingAndGlyphs">C:</text>
<text x="556.0" y="49.2" class="tl" textLength="102.8" lengthAdjust="spacingAndGlyphs">0.13902168</text>
<text x="685.4" y="49.2" class="tl" textLength="102.3" lengthAdjust="spacingAndGlyphs">0.14809743</text>
<text x="810.6" y="49.2" class="tl" textLength="102.0" lengthAdjust="spacingAndGlyphs">0.13507284</text>
<text x="937.0" y="49.2" class="tl" textLength="103.5" lengthAdjust="spacingAndGlyphs">0.14117373</text>
</g>
<text x="1702.2" y="140" class="b" font-size="40" fill="#0b0b0d" textLength="181.5" lengthAdjust="spacingAndGlyphs">SHELLEY</text>
<path d="M1770.9 157.8 H1793.2 V205.8 H1804.8 L1782 254.6 L1759.2 205.8 H1770.9 Z" fill="none" stroke="#0e0e10" stroke-width="5" stroke-linejoin="miter" stroke-miterlimit="1.5"/>
<g>
<g fill="#4ab1ab"><circle cx="15.6" cy="1231" r="6.9"/><circle cx="25.4" cy="1224.6" r="8.6"/><circle cx="40" cy="1230.5" r="7.6"/><rect x="14.6" y="1227" width="25.4" height="11.1"/></g>
<path d="M10.3 1234 L23.4 1224.3 L32.7 1232.6 L42 1224.3" fill="none" stroke="#fff" stroke-width="1.2"/>
<circle cx="23.4" cy="1224.3" r="2.2" fill="#fff"/><circle cx="32.7" cy="1232.6" r="2.2" fill="#fff"/>
<text x="49.6" y="1232.6" font-size="17.4" fill="#262b3d" textLength="105.2" lengthAdjust="spacingAndGlyphs">TradingView</text>
</g>
</svg></body></html>
